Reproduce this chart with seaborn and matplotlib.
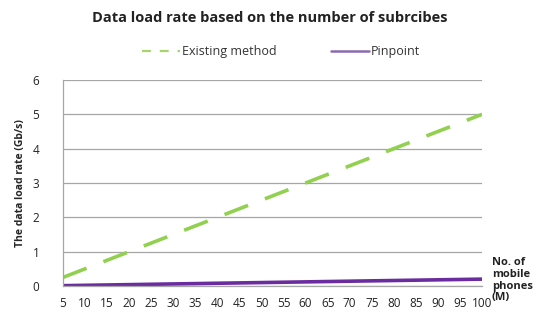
import matplotlib
matplotlib.use("Agg")
import matplotlib.pyplot as plt
import seaborn as sns
import pandas as pd

phones = [5, 10, 15, 20, 25, 30, 35, 40, 45, 50, 55, 60, 65, 70, 75, 80, 85, 90, 95, 100]
existing = [0.25, 0.5, 0.75, 1.0, 1.25, 1.5, 1.75, 2.0, 2.25, 2.5,
            2.75, 3.0, 3.25, 3.5, 3.75, 4.0, 4.25, 4.5, 4.75, 5.0]
pinpoint = [0.01, 0.02, 0.03, 0.04, 0.05, 0.06, 0.07, 0.08, 0.09, 0.1,
            0.11, 0.12, 0.13, 0.14, 0.15, 0.16, 0.17, 0.18, 0.19, 0.2]
yticks = [0, 1, 2, 3, 4, 5, 6]

sns.set_theme(style="white")
plt.rcParams["font.family"] = ["Open Sans", "DejaVu Sans"]

df = pd.DataFrame({"phones": phones, "Existing method": existing, "Pinpoint": pinpoint})

fig = plt.figure(figsize=(5.37, 3.2), dpi=100)
ax = fig.add_axes([63 / 537, 34 / 320, 419 / 537, 206 / 320])

sns.lineplot(data=df, x="phones", y="Existing method", ax=ax, color="#92D050",
             linewidth=2.6, label="Existing method")
ax.lines[0].set_dashes([7, 5])
sns.lineplot(data=df, x="phones", y="Pinpoint", ax=ax, color="#6A2C9F",
             linewidth=2.6, label="Pinpoint")

ax.set_xlim(5, 100)
ax.set_ylim(0, 6)
ax.set_xticks(phones)
ax.set_xticklabels([str(p) for p in phones], fontsize=8.5, color="#222222")
ax.set_yticks(yticks)
ax.set_yticklabels([str(t) for t in yticks], fontsize=8.5, color="#222222")
ax.tick_params(axis="x", pad=8, length=0)
ax.tick_params(axis="y", pad=17, length=0)
ax.grid(axis="y", color="#A6A6A6", linewidth=0.9)
ax.set_axisbelow(True)
for s in ["top", "right"]:
    ax.spines[s].set_visible(False)
ax.spines["left"].set_color("#A6A6A6")
ax.spines["bottom"].set_color("#A6A6A6")
ax.spines["left"].set_linewidth(0.9)
ax.spines["bottom"].set_linewidth(0.9)

ax.set_xlabel("")
ax.set_ylabel("The data load rate (Gb/s)", fontsize=7.5, fontweight="bold", labelpad=5)
fig.text(492 / 537, 1 - 257 / 320, "No. of\nmobile\nphones\n(M)",
         fontsize=8, fontweight="bold", va="top", ha="left", linespacing=1.1,
         color="#222222")

fig.text(270 / 537, 1 - 18 / 320, "Data load rate based on the number of subrcibes",
         ha="center", va="center", fontsize=10.5, fontweight="bold", color="#222222")
leg = ax.legend(loc="center", bbox_to_anchor=(281 / 537, 1 - 52 / 320),
                bbox_transform=fig.transFigure, ncol=2, frameon=False, fontsize=9,
                handlelength=3.0, columnspacing=4.4, handletextpad=0.15)
for t in leg.get_texts():
    t.set_color("#333333")
handles = leg.get_lines()
handles[0].set_linewidth(1.6)
handles[0].set_dashes([4, 4])
handles[0].set_color("#A8D46A")
handles[1].set_linewidth(1.8)
handles[1].set_color("#8A6AB0")

fig.savefig("out.png", dpi=100)
